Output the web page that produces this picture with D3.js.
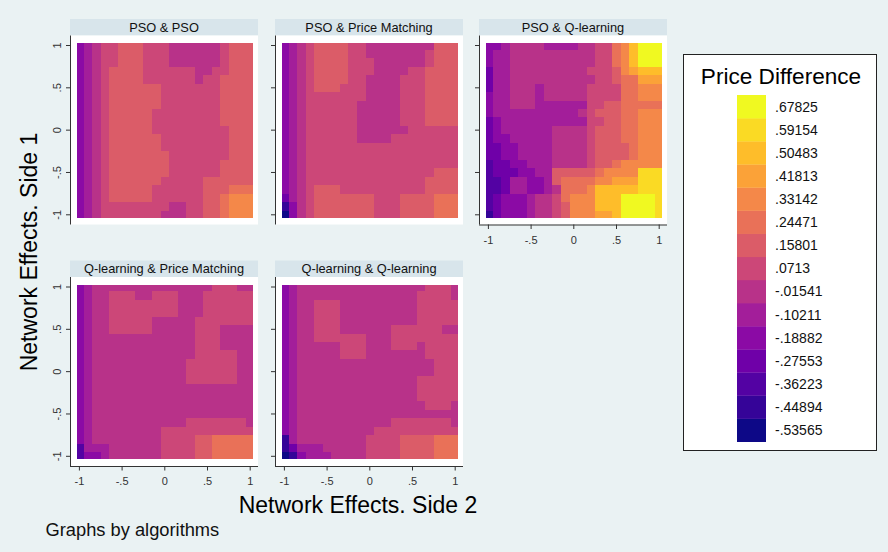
<!DOCTYPE html>
<html>
<head>
<meta charset="utf-8">
<script src="https://cdn.jsdelivr.net/npm/d3@7"></script>
<style>
    body { margin: 0; background: #eaf2f3; }
    svg { display: block; font-family: Arial, "Liberation Sans", sans-serif; }
</style>
</head>
<body>
<div id="viz"></div>
<script>

// contour levels (legend), bottom to top
var levels = [-.53565, -.44894, -.36223, -.27553, -.18882, -.10211, -.01541, .0713,
              .15801, .24471, .33142, .41813, .50483, .59154, .67825];
var levelLabels = ["-.53565", "-.44894", "-.36223", "-.27553", "-.18882", "-.10211", "-.01541", ".0713",
                   ".15801", ".24471", ".33142", ".41813", ".50483", ".59154", ".67825"];

// network effect grid (side 2 along x, side 1 along y)
var netEffects = [-1, -.9, -.8, -.7, -.6, -.5, -.4, -.3, -.2, -.1, 0, .1, .2, .3, .4, .5, .6, .7, .8, .9, 1];
var tickValues = [-1, -.5, 0, .5, 1];
var tickLabels = ["-1", "-.5", "0", ".5", "1"];

var panelTitles = ["PSO & PSO", "PSO & Price Matching", "PSO & Q-learning",
                   "Q-learning & Price Matching", "Q-learning & Q-learning"];

// each row is side 1 = 1 (top) down to -1, each char is a level index (hex)
var psoPso = [
    "456778887776666667888",
    "456778887776666667888",
    "456778887776666667888",
    "456788887777776677888",
    "456788887777776778888",
    "456788888877777778888",
    "456788888877777778888",
    "456788888877777778888",
    "456788888777777778888",
    "456788888777777778888",
    "456788888777777777888",
    "456788888877777777888",
    "456788888877777777888",
    "456788888887777777888",
    "456788888887777778888",
    "456788888887777778888",
    "456788888877777888888",
    "456788888777777888999",
    "456788888777777889aaa",
    "456777777776677889aaa",
    "456777777766677889aaa"
];
var psoPm = [
    "456788887766666666888",
    "456788887766666667888",
    "456788887776666667888",
    "456788887776666778888",
    "456788887766667778888",
    "456788877766667778888",
    "456777777766667778888",
    "456777777666667778888",
    "456777777666667778888",
    "456777777666667778888",
    "456777777666666777777",
    "456777777666677777777",
    "456777777777777777777",
    "456777777777777777777",
    "456777777777777777777",
    "456777777777777777888",
    "456777777777777778888",
    "456788877777777778888",
    "356788888887778888999",
    "146788888887778888999",
    "046788888887778888999"
];
var psoQl = [
    "4456666555566779aceee",
    "4556666666666779aceee",
    "4556666666666779aceee",
    "3556666666667778abccc",
    "355666666666677899bbb",
    "355666566666777799aaa",
    "455666566666777799aaa",
    "455666555555778899999",
    "455555555556788899aaa",
    "345555555555778899aaa",
    "345555556666788899aaa",
    "344555556666788899aaa",
    "334455556666788889aaa",
    "334455556666788889aaa",
    "2334455566667889aaaaa",
    "23334455888889aaaaddd",
    "2235544589999aabbbddd",
    "223554456999acccccddd",
    "2344456679aaaccceeeed",
    "2344456678aaaccceeeed",
    "1344456678aaabbceeeed"
];
var qlPm = [
    "456666666666666677766",
    "456677766777666777777",
    "456677777777666777777",
    "456677777777666777777",
    "456677777666667777777",
    "456677777666667776666",
    "456666666666667776666",
    "456666666666667776666",
    "456666666666667777766",
    "456666666666677777766",
    "456666666666677777766",
    "456666666666677777766",
    "456666666666666666666",
    "456666666666666666666",
    "456666666666666666666",
    "456666666666666666666",
    "456666666666677777776",
    "456666666677777777777",
    "456666666677778899999",
    "255566666677778899999",
    "244566666677778899999"
];
var qlQl = [
    "456666666666666667776",
    "456666666666666677776",
    "456677766666666677777",
    "456677766666666677777",
    "456677766666666677777",
    "456677766666677777766",
    "456677777766677777777",
    "456666677766677767777",
    "456666677766666667777",
    "456666666666666666777",
    "456666666666666666777",
    "456666666666666677777",
    "456666666666666677777",
    "456666666666666677777",
    "456666666666666667776",
    "456666666666666666666",
    "456666666666677777776",
    "456666666667777777777",
    "156666666677778888999",
    "135556666677778888999",
    "014555666677778888999"
];

var panelGrids = [psoPso, psoPm, psoQl, qlPm, qlQl];

// layout
var colX = [70, 275, 479];
var rowY = [35.5, 277];
var panelPos = [[0, 0], [1, 0], [2, 0], [0, 1], [1, 1]];
var panelW = 188, panelH = 189, barH = 16.5;
var half = 0.05, edge = 1.025;

var xs = d3.scaleLinear().domain([-1, 1]).range([9.4, 180.2]);
var ys = d3.scaleLinear().domain([-1, 1]).range([179.3, 10]);
var color = d3.scaleSequential(d3.interpolatePlasma).domain([levels[0], levels[levels.length - 1]]);

var svg = d3.select("#viz").append("svg").attr("width", 888).attr("height", 552);

svg.append("rect").attr("width", 888).attr("height", 552).style("fill", "#eaf2f3");

function toCells(grid)
{
    var cells = [];
    grid.forEach(function(row, j) {
        for (var i = 0; i < row.length; i++) {
            cells.push({ x: netEffects[i], y: netEffects[netEffects.length - 1 - j],
                         v: levels[parseInt(row[i], 16)] });
        }
    });
    return cells;
}

function drawPanel(k)
{
    var c = panelPos[k][0], r = panelPos[k][1];
    var g = svg.append("g").attr("transform", "translate(" + colX[c] + "," + rowY[r] + ")");

    // title bar
    g.append("rect").attr("x", 0).attr("y", -barH).attr("width", panelW).attr("height", barH)
        .style("fill", "#d8e5eb");
    g.append("text").attr("x", panelW / 2).attr("y", -4)
        .attr("text-anchor", "middle").style("font-size", "12.8px").style("fill", "#111")
        .text(panelTitles[k]);

    g.append("rect").attr("width", panelW).attr("height", panelH).style("fill", "white");

    g.append("g").attr("shape-rendering", "crispEdges")
        .selectAll("rect").data(toCells(panelGrids[k])).enter().append("rect")
        .attr("x", function(d) { return xs(Math.max(d.x - half, -edge)); })
        .attr("y", function(d) { return ys(Math.min(d.y + half, edge)); })
        .attr("width", function(d) { return xs(Math.min(d.x + half, edge)) - xs(Math.max(d.x - half, -edge)) + 0.6; })
        .attr("height", function(d) { return ys(Math.max(d.y - half, -edge)) - ys(Math.min(d.y + half, edge)) + 0.6; })
        .style("fill", function(d) { return color(d.v); });

    // y axis
    g.append("line").attr("x1", 0.5).attr("x2", 0.5).attr("y1", 0).attr("y2", panelH)
        .style("stroke", "#333");
    g.selectAll("line.ytick").data(tickValues).enter().append("line")
        .attr("x1", -4).attr("x2", 0.5)
        .attr("y1", function(d) { return ys(d); }).attr("y2", function(d) { return ys(d); })
        .style("stroke", "#333");
    if (c === 0) {
        g.selectAll("text.ytick").data(tickValues).enter().append("text")
            .attr("transform", function(d) { return "translate(-9.5," + ys(d) + ") rotate(-90)"; })
            .attr("text-anchor", "middle").style("font-size", "11px").style("fill", "#333")
            .text(function(d, i) { return tickLabels[i]; });
    }

    // x axis for panels with nothing below
    if (r === 1 || c === 2) {
        g.append("line").attr("x1", 0).attr("x2", panelW).attr("y1", panelH + 0.5).attr("y2", panelH + 0.5)
            .style("stroke", "#333");
        g.selectAll("line.xtick").data(tickValues).enter().append("line")
            .attr("x1", function(d) { return xs(d); }).attr("x2", function(d) { return xs(d); })
            .attr("y1", panelH).attr("y2", panelH + 4.5)
            .style("stroke", "#333");
        g.selectAll("text.xtick").data(tickValues).enter().append("text")
            .attr("x", function(d) { return xs(d); }).attr("y", panelH + 19)
            .attr("text-anchor", "middle").style("font-size", "11px").style("fill", "#333")
            .text(function(d, i) { return tickLabels[i]; });
    }
}

for (var k = 0; k < panelGrids.length; k++) drawPanel(k);

// axis titles
svg.append("text").attr("x", 358).attr("y", 513).attr("text-anchor", "middle")
    .style("font-size", "23px").style("fill", "#000").text("Network Effects. Side 2");
svg.append("text").attr("transform", "translate(36.5,252) rotate(-90)").attr("text-anchor", "middle")
    .style("font-size", "23px").style("fill", "#000").text("Network Effects. Side 1");
svg.append("text").attr("x", 45.5).attr("y", 536)
    .style("font-size", "18.3px").style("fill", "#111").text("Graphs by algorithms");

// legend
var leg = svg.append("g");
leg.append("rect").attr("x", 683.5).attr("y", 54.5).attr("width", 193).attr("height", 396)
    .style("fill", "white").style("stroke", "#222");
leg.append("text").attr("x", 781).attr("y", 84).attr("text-anchor", "middle")
    .style("font-size", "22.6px").style("fill", "#000").text("Price Difference");

var ly = d3.scaleBand().domain(levels.slice().reverse()).range([95, 441.7]);
leg.selectAll("rect.band").data(levels).enter().append("rect")
    .attr("x", 737).attr("width", 29)
    .attr("y", function(d) { return ly(d); }).attr("height", ly.bandwidth() + 0.3)
    .style("fill", function(d) { return color(d); });
leg.selectAll("text.band").data(levels).enter().append("text")
    .attr("x", 775).attr("y", function(d) { return ly(d) + ly.bandwidth() / 2 + 5; })
    .style("font-size", "14px").style("fill", "#111")
    .text(function(d, i) { return levelLabels[i]; });

</script>
</body>
</html>
